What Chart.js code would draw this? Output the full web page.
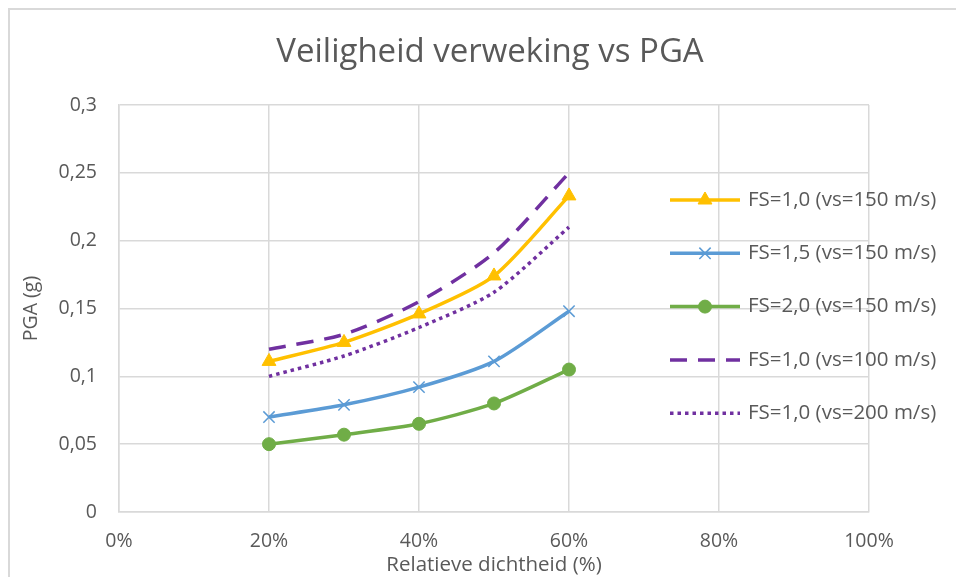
<!DOCTYPE html>
<html>
<head>
<meta charset="utf-8">
<script src="https://cdn.jsdelivr.net/npm/chart.js@4/dist/chart.umd.min.js"></script>
<style>
  html, body { margin: 0; padding: 0; background: #ffffff; }
  #wrap { width: 956px; height: 577px; }
</style>
</head>
<body>
<div id="wrap"><canvas id="grafiek" width="956" height="577"></canvas></div>
<script>
// relatieve dichtheid (%)
let dichtheid = [20, 30, 40, 50, 60]

// PGA (g) per reeks
let fs10_150 = [0.111, 0.125, 0.146, 0.174, 0.233]
let fs15_150 = [0.070, 0.079, 0.092, 0.111, 0.148]
let fs20_150 = [0.050, 0.057, 0.065, 0.080, 0.105]
let fs10_100 = [0.120, 0.131, 0.155, 0.191, 0.250]
let fs10_200 = [0.100, 0.115, 0.136, 0.162, 0.210]

let labels = [
    "FS=1,0 (vs=150 m/s)",
    "FS=1,5 (vs=150 m/s)",
    "FS=2,0 (vs=150 m/s)",
    "FS=1,0 (vs=100 m/s)",
    "FS=1,0 (vs=200 m/s)"
]

let yTicks = [0, 0.05, 0.1, 0.15, 0.2, 0.25, 0.3]
let xTicks = [0, 20, 40, 60, 80, 100]

let fontFam = "'Open Sans', sans-serif"
let grijs = "#595959"
let raster = "#d9d9d9"

function punten(waarden) {
    return waarden.map((v, i) => ({ x: dichtheid[i], y: v }))
}

// legenda rechts + titel + kader
let extra = {
    id: "extra",
    afterDraw(chart) {
        let ctx = chart.ctx
        ctx.save()

        // kader
        ctx.strokeStyle = raster
        ctx.lineWidth = 2
        ctx.beginPath()
        ctx.moveTo(9, 577)
        ctx.lineTo(9, 9)
        ctx.lineTo(956, 9)
        ctx.stroke()

        // titel
        ctx.fillStyle = grijs
        ctx.font = "33px " + fontFam
        ctx.textAlign = "center"
        ctx.textBaseline = "middle"
        ctx.fillText("Veiligheid verweking vs PGA", 490, 53)

        // legenda
        let x0 = 670, x1 = 740
        chart.data.datasets.forEach((ds, i) => {
            let y = 200 + i * 53.3
            ctx.strokeStyle = ds.borderColor
            ctx.lineWidth = ds.borderWidth
            ctx.setLineDash(ds.borderDash || [])
            ctx.lineCap = "butt"
            ctx.beginPath()
            ctx.moveTo(x0, y)
            ctx.lineTo(x1, y)
            ctx.stroke()
            ctx.setLineDash([])
            if (ds.pointStyle && ds.pointRadius > 0) {
                ctx.fillStyle = ds.pointBackgroundColor
                ctx.strokeStyle = ds.pointBorderColor
                ctx.lineWidth = ds.pointBorderWidth || 1
                Chart.helpers.drawPoint(ctx, {
                    pointStyle: ds.pointStyle,
                    radius: ds.pointRadius,
                    borderWidth: ds.pointBorderWidth || 1,
                    rotation: 0
                }, (x0 + x1) / 2, y)
            }
            ctx.fillStyle = grijs
            ctx.font = "20.5px " + fontFam
            ctx.textAlign = "left"
            ctx.textBaseline = "middle"
            ctx.fillText(ds.label, 748, y)
        })
        ctx.restore()
    }
}

new Chart(document.getElementById("grafiek"), {
    type: "line",
    data: {
        datasets: [
            {
                label: labels[0],
                data: punten(fs10_150),
                borderColor: "#FFC000",
                backgroundColor: "#FFC000",
                pointBackgroundColor: "#FFC000",
                pointBorderColor: "#FFC000",
                borderWidth: 3.5,
                pointStyle: "triangle",
                pointRadius: 8,
                pointBorderWidth: 1,
                tension: 0.25
            },
            {
                label: labels[1],
                data: punten(fs15_150),
                borderColor: "#5B9BD5",
                backgroundColor: "#5B9BD5",
                pointBackgroundColor: "#5B9BD5",
                pointBorderColor: "#5B9BD5",
                borderWidth: 3.5,
                pointStyle: "crossRot",
                pointRadius: 8,
                pointBorderWidth: 1.5,
                tension: 0.25
            },
            {
                label: labels[2],
                data: punten(fs20_150),
                borderColor: "#70AD47",
                backgroundColor: "#70AD47",
                pointBackgroundColor: "#70AD47",
                pointBorderColor: "#70AD47",
                borderWidth: 3.5,
                pointStyle: "circle",
                pointRadius: 6.5,
                pointBorderWidth: 1,
                tension: 0.25
            },
            {
                label: labels[3],
                data: punten(fs10_100),
                borderColor: "#7030A0",
                backgroundColor: "#7030A0",
                borderWidth: 3.5,
                borderDash: [17, 11],
                pointRadius: 0,
                pointStyle: false,
                tension: 0.25
            },
            {
                label: labels[4],
                data: punten(fs10_200),
                borderColor: "#7030A0",
                backgroundColor: "#7030A0",
                borderWidth: 3.5,
                borderDash: [3.5, 4],
                pointRadius: 0,
                pointStyle: false,
                tension: 0.25
            }
        ]
    },
    options: {
        responsive: false,
        animation: false,
        layout: { padding: { top: 105, right: 87, left: 0, bottom: 0 } },
        plugins: {
            legend: { display: false },
            title: { display: false },
            tooltip: { enabled: false }
        },
        scales: {
            x: {
                type: "linear",
                min: 0,
                max: 100,
                afterFit: s => { s.height = 65 },
                afterBuildTicks: s => { s.ticks = xTicks.map(v => ({ value: v })) },
                grid: { color: raster, lineWidth: 1.5, drawTicks: false },
                border: { color: raster, width: 1.5 },
                ticks: {
                    color: grijs,
                    padding: 18,
                    font: { family: fontFam, size: 19.5 },
                    callback: v => v + "%"
                },
                title: {
                    display: true,
                    text: "Relatieve dichtheid (%)",
                    color: grijs,
                    padding: { top: -4, bottom: 0 },
                    font: { family: fontFam, size: 20.5 }
                }
            },
            y: {
                min: 0,
                max: 0.3,
                afterFit: s => { s.width = 119 },
                afterBuildTicks: s => { s.ticks = yTicks.map(v => ({ value: v })) },
                grid: { color: raster, lineWidth: 1.5, drawTicks: false },
                border: { color: raster, width: 1.5 },
                ticks: {
                    color: grijs,
                    padding: 22,
                    font: { family: fontFam, size: 19.5 },
                    callback: v => String(Math.round(v * 100) / 100).replace(".", ",")
                },
                title: {
                    display: true,
                    text: "PGA (g)",
                    color: grijs,
                    padding: { top: 20, bottom: 0 },
                    font: { family: fontFam, size: 19.5 }
                }
            }
        }
    },
    plugins: [extra]
})
</script>
</body>
</html>
